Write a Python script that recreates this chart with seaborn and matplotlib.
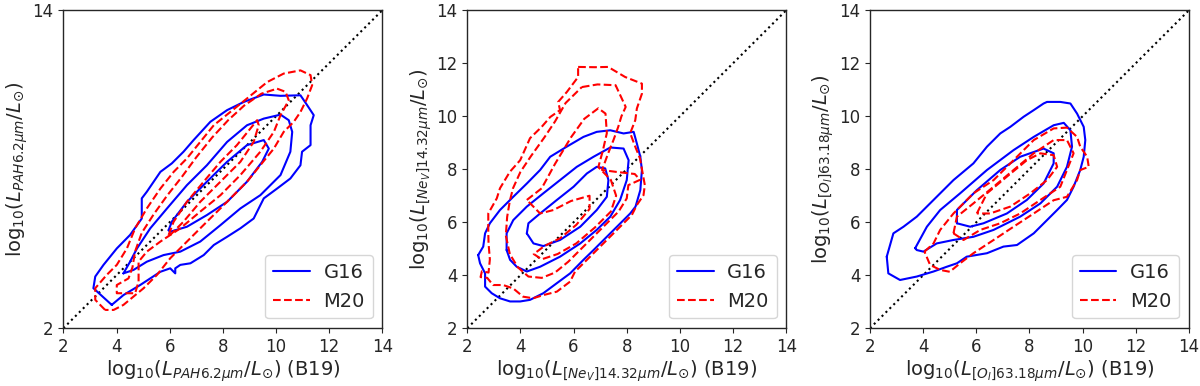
import numpy as np
import pandas as pd
import matplotlib
matplotlib.use("Agg")
import matplotlib.pyplot as plt
from matplotlib.lines import Line2D
import seaborn as sns

sns.set_style("ticks")
plt.rcParams['font.family'] = ['DejaVu Sans']
plt.rcParams['mathtext.fontset'] = 'dejavusans'

# ---------------- data: contour outlines (x, y) ----------------
# Panel 1: PAH 6.2um
p1_g16_outer = [(3.82,2.88),(3.13,3.51),(3.20,3.95),(3.51,4.39),(4.01,5.01),(4.51,5.52),(4.95,6.14),
                (4.95,6.90),(5.14,7.15),(5.65,7.90),(6.08,8.22),(6.52,8.66),(6.90,9.10),(7.53,9.79),
                (8.16,10.23),(8.79,10.54),(9.54,10.82),(10.17,10.77),(10.92,10.79),(11.17,10.42),
                (11.42,10.04),(11.30,9.66),(11.30,8.91),(10.98,8.66),(10.92,8.15),(10.54,7.65),
                (10.04,7.27),(9.54,6.90),(9.16,6.14),(8.66,5.77),(8.16,5.45),(7.66,5.14),(7.28,4.76),
                (6.78,4.45),(6.40,4.39),(6.21,4.26),(6.21,4.07),(6.02,4.26),(5.65,4.13),(4.89,3.63),
                (4.26,3.25),(3.82,2.88)]
p1_g16_mid = [(4.26,4.07),(4.51,4.51),(4.77,5.01),(5.27,5.77),(5.90,6.52),(6.65,7.40),(7.40,8.15),
              (8.16,9.03),(8.91,9.66),(9.54,9.91),(10.17,10.06),(10.48,9.85),(10.61,9.41),(10.54,8.66),
              (10.17,7.78),(9.41,7.02),(8.66,6.52),(7.91,5.89),(7.15,5.27),(6.40,4.89),(5.77,4.76),
              (5.14,4.51),(4.64,4.20),(4.26,4.07)]
p1_g16_inner = [(5.96,5.70),(6.08,6.02),(6.65,6.77),(7.40,7.53),(8.16,8.28),(8.91,8.91),(9.54,9.10),
                (9.73,8.78),(9.48,8.28),(8.91,7.53),(8.16,6.77),(7.40,6.27),(6.65,5.83),(6.02,5.64),
                (5.96,5.70)]
p1_m20_outer = [(3.57,2.69),(3.20,3.07),(3.20,3.51),(3.63,4.01),(4.01,4.39),(4.39,5.01),(4.70,5.77),
                (5.14,6.52),(5.65,7.27),(6.15,7.90),(6.65,8.41),(7.15,9.03),(7.66,9.66),(8.28,10.16),
                (8.91,10.67),(9.67,11.29),(10.29,11.61),(10.92,11.73),(11.30,11.55),(11.36,11.17),
                (11.17,10.67),(10.92,10.16),(10.67,9.79),(10.29,9.41),(9.92,8.78),(9.41,8.15),
                (8.91,7.53),(8.16,6.77),(7.40,6.02),(6.65,5.27),(6.02,4.64),(5.52,4.01),(5.02,3.51),
                (4.26,2.88),(3.89,2.69),(3.57,2.69)]
p1_m20_mid = [(10.04,11.04),(10.36,10.92),(10.48,10.60),(10.17,10.04),(9.92,9.41),(9.41,8.66),
              (8.66,7.78),(7.91,7.02),(7.15,6.40),(6.40,5.77),(5.65,5.27),(5.14,4.89),(4.83,4.51),
              (4.83,3.76),(4.70,3.32),(4.01,3.32),(4.01,3.63),(4.45,3.88),(4.60,4.30),(4.70,4.90),
              (4.95,5.60),(5.40,6.30),(5.90,7.00),(6.45,7.70),(7.00,8.45),(7.60,9.20),(8.20,9.85),
              (8.80,10.40),(9.45,10.85),(10.04,11.04)]
p1_m20_inner = [(5.96,5.52),(6.15,6.02),(6.65,6.77),(7.28,7.53),(7.91,8.28),(8.53,8.91),(9.04,9.54),
                (9.29,9.85),(9.35,9.66),(9.16,9.03),(8.66,8.28),(7.91,7.53),(7.15,6.77),(6.52,6.02),
                (6.02,5.52),(5.96,5.52)]

# Panel 2: [NeV] 14.32um
p2_g16_outer = [(2.41,4.76),(2.60,5.08),(2.67,5.58),(2.85,5.96),(3.23,6.46),(3.73,6.96),(4.24,7.46),
                (4.74,7.97),(5.12,8.47),(5.74,8.85),(6.37,9.22),(6.87,9.41),(7.38,9.47),(7.88,9.35),
                (8.26,9.41),(8.38,8.97),(8.51,8.47),(8.57,7.97),(8.51,7.21),(8.33,6.59),(8.13,6.33),
                (7.88,6.08),(7.51,5.71),(7.13,5.33),(6.75,4.95),(6.37,4.58),(5.87,4.07),(5.37,3.70),
                (4.86,3.32),(4.36,3.07),(3.99,3.01),(3.61,3.01),(3.23,3.13),(2.92,3.32),(2.67,3.57),
                (2.67,4.07),(2.48,4.45),(2.41,4.76)]
p2_g16_mid = [(3.48,4.95),(3.48,5.58),(3.73,6.08),(4.24,6.59),(4.86,7.09),(5.49,7.59),(6.12,8.09),
              (6.75,8.47),(7.38,8.82),(7.88,8.78),(8.07,8.34),(8.00,7.59),(7.75,6.84),(7.38,6.21),
              (6.87,5.71),(6.25,5.20),(5.49,4.70),(4.74,4.32),(4.24,4.14),(3.86,4.32),(3.61,4.58),
              (3.48,4.95)]
p2_g16_inner = [(4.24,5.58),(4.30,5.96),(4.74,6.33),(5.37,6.84),(6.00,7.34),(6.50,7.84),(6.87,8.09),
                (7.19,8.03),(7.31,7.59),(7.25,6.96),(6.87,6.46),(6.25,5.83),(5.49,5.33),(4.86,5.10),
                (4.49,5.20),(4.24,5.58)]
p2_m20_outer = [(6.17,11.86),(6.80,11.85),(7.30,11.86),(7.94,11.48),(8.57,11.23),(8.57,10.85),
                (8.38,10.29),(8.32,9.85),(8.13,9.36),(8.30,8.90),(8.50,8.40),(8.61,7.78),(8.68,7.40),
                (8.63,7.02),(8.38,6.65),(8.19,6.27),(7.94,6.02),(7.56,5.64),(7.18,5.26),(6.81,4.89),
                (6.43,4.51),(6.05,4.13),(5.87,3.76),(5.37,3.38),(4.86,3.25),(4.48,3.13),(4.10,3.19),
                (3.73,3.50),(3.35,3.63),(2.97,3.63),(2.75,3.90),(2.50,3.93),(2.55,4.15),(2.80,4.10),
                (2.85,4.60),(2.80,5.20),(2.79,5.60),(2.79,6.33),(3.11,6.90),(3.23,7.28),(3.60,7.90),
                (3.99,8.34),(4.36,9.17),(4.80,9.60),(5.12,9.97),(5.49,10.23),(5.42,10.54),(5.75,10.92),
                (6.17,11.48),(6.17,11.86)]
p2_m20_mid = [(6.31,11.10),(6.90,11.20),(7.58,11.17),(7.96,10.35),(7.80,10.00),(7.68,9.60),(7.50,9.10),
              (7.30,8.60),(7.07,7.97),(7.60,7.90),(8.30,7.82),(8.50,7.60),(8.06,7.40),(8.00,6.90),
              (7.69,6.40),(7.31,6.02),(6.81,5.52),(6.31,5.02),(5.80,4.51),(5.30,4.10),(4.80,3.90),
              (4.30,3.95),(3.90,4.30),(3.60,4.80),(3.45,5.50),(3.50,6.20),(3.60,6.80),(3.72,7.28),
              (4.00,7.90),(4.40,8.50),(4.90,9.20),(5.30,9.80),(5.70,10.50),(6.31,11.10)]
p2_m20_inner = [(4.24,6.84),(4.80,7.28),(5.30,8.20),(5.90,9.20),(6.40,9.90),(6.93,10.30),(7.20,10.10),
                (7.25,9.36),(7.10,8.70),(6.93,8.08),(7.40,7.60),(7.60,7.00),(7.40,6.40),(6.80,5.80),
                (6.10,5.20),(5.40,4.80),(4.80,4.60),(4.50,4.80),(4.90,5.10),(5.50,5.40),(6.10,5.90),
                (6.60,6.50),(6.60,7.00),(5.90,6.80),(5.24,6.46),(4.74,6.33),(4.24,6.84)]

# Panel 3: [OI] 63.18um
p3_g16_outer = [(2.63,4.70),(2.69,4.07),(3.13,3.82),(3.76,3.95),(4.39,4.14),(4.89,4.32),(5.27,4.45),
                (5.64,4.70),(6.40,4.83),(7.02,5.08),(7.53,5.14),(8.16,5.58),(8.66,6.08),(9.04,6.46),
                (9.41,6.84),(9.66,7.34),(9.91,7.97),(10.04,8.47),(10.10,9.10),(10.04,9.60),(9.79,10.10),
                (9.54,10.48),(9.16,10.54),(8.66,10.54),(8.53,10.48),(8.16,10.23),(7.78,9.98),(7.28,9.60),
                (6.90,9.35),(6.40,8.85),(5.89,8.22),(5.14,7.59),(4.39,6.84),(3.76,6.21),(3.26,5.83),
                (2.88,5.58),(2.63,4.70)]
p3_g16_mid = [(3.70,5.02),(4.14,5.83),(4.64,6.46),(5.39,7.09),(6.40,7.97),(7.40,8.72),(8.16,9.22),
              (8.91,9.66),(9.29,9.75),(9.54,9.47),(9.60,8.85),(9.41,8.09),(9.04,7.34),(8.41,6.71),
              (7.65,6.21),(6.65,5.71),(5.89,5.45),(5.14,5.33),(4.51,5.20),(4.01,4.89),(3.76,4.95),
              (3.70,5.02)]
p3_g16_inner = [(5.27,5.96),(5.27,6.46),(6.02,7.21),(6.90,7.97),(7.65,8.47),(8.53,8.78),(8.91,8.60),
                (8.91,8.22),(8.53,7.46),(7.90,6.84),(7.15,6.33),(6.27,5.96),(5.77,5.83),(5.27,5.96)]
p3_m20_outer = [(4.05,4.89),(4.39,5.20),(4.64,5.71),(5.14,6.33),(5.89,7.09),(6.65,7.59),(7.40,8.34),
                (8.16,9.10),(8.91,9.54),(9.41,9.57),(9.79,9.22),(9.91,8.85),(10.17,8.47),(10.23,8.09),
                (9.91,7.97),(9.79,7.59),(9.41,6.96),(8.91,6.83),(8.16,6.33),(7.40,5.83),(6.65,5.33),
                (5.89,4.83),(5.39,4.45),(5.00,4.13),(4.64,4.20),(4.26,4.39),(4.05,4.89)]
p3_m20_mid = [(5.14,5.58),(5.27,6.21),(5.89,6.71),(6.65,7.34),(7.40,7.97),(8.16,8.60),(8.91,9.10),
              (9.41,9.10),(9.66,8.60),(9.41,7.97),(9.16,7.34),(8.41,6.84),(7.65,6.33),(6.90,5.96),
              (6.15,5.71),(5.52,5.33),(5.14,5.58)]
p3_m20_inner = [(6.02,6.33),(6.40,7.09),(7.15,7.72),(7.90,8.34),(8.41,8.60),(8.91,8.53),(9.04,8.09),
                (8.66,7.59),(8.03,7.09),(7.28,6.59),(6.52,6.33),(6.02,6.33)]

xlabels = [r"$\mathrm{log}_{10}(L_{PAH6.2\mu m}/L_{\odot})$ (B19)",
           r"$\mathrm{log}_{10}(L_{[Ne_{V}]14.32\mu m}/L_{\odot})$ (B19)",
           r"$\mathrm{log}_{10}(L_{[O_{I}]63.18\mu m}/L_{\odot})$ (B19)"]
ylabels = [r"$\mathrm{log}_{10}(L_{PAH6.2\mu m}/L_{\odot})$",
           r"$\mathrm{log}_{10}(L_{[Ne_{V}]14.32\mu m}/L_{\odot})$",
           r"$\mathrm{log}_{10}(L_{[O_{I}]63.18\mu m}/L_{\odot})$"]
series = ["G16", "M20"]
ticks = [2, 4, 6, 8, 10, 12, 14]
p1_yticks = [2, 14]

contours = {
    0: {"G16": [p1_g16_outer, p1_g16_mid, p1_g16_inner], "M20": [p1_m20_outer, p1_m20_mid, p1_m20_inner]},
    1: {"G16": [p2_g16_outer, p2_g16_mid, p2_g16_inner], "M20": [p2_m20_outer, p2_m20_mid, p2_m20_inner]},
    2: {"G16": [p3_g16_outer, p3_g16_mid, p3_g16_inner], "M20": [p3_m20_outer, p3_m20_mid, p3_m20_inner]},
}

styles = {"G16": dict(color="blue", linestyle="-"), "M20": dict(color="red", linestyle="--")}

fig = plt.figure(figsize=(12, 3.86), dpi=100)
lefts = [0.0528, 0.3894, 0.725]
axes = [fig.add_axes([l, 0.1497, 0.2658, 0.8238]) for l in lefts]

for i, ax in enumerate(axes):
    # 1:1 line
    sns.lineplot(x=[2, 14], y=[2, 14], ax=ax, color="black", linestyle=":", linewidth=1.5)
    for s in series:
        for pts in contours[i][s]:
            df = pd.DataFrame(pts, columns=["x", "y"])
            sns.lineplot(data=df, x="x", y="y", sort=False, estimator=None, ax=ax,
                         linewidth=1.5, **styles[s])
    ax.set_xlim(2, 14)
    ax.set_ylim(2, 14)
    ax.set_xticks(ticks)
    ax.set_yticks(p1_yticks if i == 0 else ticks)
    ax.tick_params(labelsize=12, direction="out", length=3.5)
    ax.set_xlabel(xlabels[i], fontsize=14, labelpad=2)
    ax.set_ylabel(ylabels[i], fontsize=14, labelpad=2)
    for sp in ax.spines.values():
        sp.set_visible(True)
        sp.set_linewidth(1.0)
    handles = [Line2D([0], [0], color="blue", linestyle="-", linewidth=1.5),
               Line2D([0], [0], color="red", linestyle="--", linewidth=1.5)]
    ax.legend(handles, series, loc="lower right", fontsize=14, fancybox=True,
              handlelength=1.9, handletextpad=0.7)

fig.savefig("out.png", dpi=100)
